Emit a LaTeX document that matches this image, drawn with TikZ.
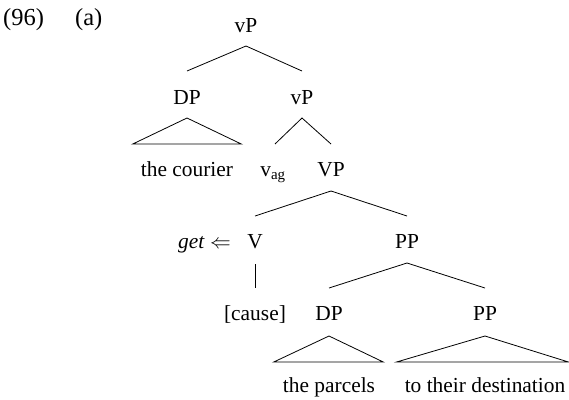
\documentclass[tikz,border=0pt]{standalone}
\usepackage{fontspec}
\setmainfont{Liberation Serif}
\usetikzlibrary{calc}
\begin{document}
\begin{tikzpicture}[x=1pt,y=1pt,
  lab/.style={inner sep=0pt,anchor=base,font=\fontsize{21.4}{25}\selectfont},
  hdr/.style={inner sep=0pt,anchor=base west,font=\fontsize{24.5}{28}\selectfont},
  br/.style={line width=0.8pt}]
\useasboundingbox (0,0) rectangle (569,-399);
\node[hdr] (ex) at (3,-25) {(96)};
\node[hdr] (sub) at (75,-25) {(a)};
% level 0
\node[lab] (vP0) at (246,-32) {vP};
% level 1
\node[lab] (DP1) at (187,-104) {DP};
\node[lab] (vP1) at (302,-104) {vP};
% level 2
\node[lab] (courier) at (187,-176) {the courier};
\node[lab] (vag) at (273,-176) {v\textsubscript{ag}};
\node[lab] (VP2) at (331,-176) {VP};
% level 3
\node[lab] (V3) at (255,-248) {V};
\node[lab,anchor=base east] (get) at (231,-248) {\textit{get} $\Leftarrow$};
\node[lab] (PP3) at (407,-248) {PP};
% level 4
\node[lab] (cause) at (255,-320) {[cause]};
\node[lab] (DP4) at (329,-320) {DP};
\node[lab] (PP4) at (485,-320) {PP};
% level 5
\node[lab] (parcels) at (329,-392) {the parcels};
\node[lab] (dest) at (485,-392) {to their destination};
% branches
\draw[br] ([yshift=33pt]DP1.base) -- ([yshift=-14pt]vP0.base) -- ([yshift=33pt]vP1.base);
\draw[br] ([yshift=-14pt]DP1.base) -- ([xshift=-8pt,yshift=32pt]courier.base west)
  -- ([xshift=8pt,yshift=32pt]courier.base east) -- cycle;
\draw[br] ([xshift=2pt,yshift=32pt]vag.base) -- ([yshift=-14pt]vP1.base) -- ([yshift=32pt]VP2.base);
\draw[br] ([yshift=32pt]V3.base) -- ([yshift=-15pt]VP2.base) -- ([yshift=32pt]PP3.base);
\draw[br] ([yshift=-16pt]V3.base) -- ([yshift=32pt]cause.base);
\draw[br] ([yshift=32pt]DP4.base) -- ([yshift=-15pt]PP3.base) -- ([yshift=32pt]PP4.base);
\draw[br] ([yshift=-16pt]DP4.base) -- ([xshift=-9pt,yshift=30pt]parcels.base west)
  -- ([xshift=8pt,yshift=30pt]parcels.base east) -- cycle;
\draw[br] ([yshift=-16pt]PP4.base) -- ([xshift=-8pt,yshift=30pt]dest.base west)
  -- ([xshift=3pt,yshift=30pt]dest.base east) -- cycle;
\end{tikzpicture}
\end{document}
